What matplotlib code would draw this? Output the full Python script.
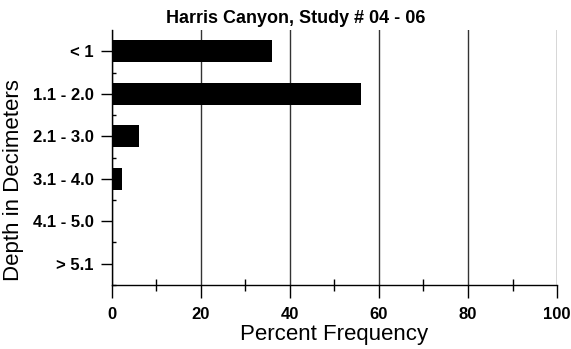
import numpy as np
import matplotlib
matplotlib.use("Agg")
import matplotlib.pyplot as plt
from matplotlib.ticker import MultipleLocator, FixedLocator

plt.rcParams['font.family'] = ['Liberation Sans', 'DejaVu Sans']

# data
depth = ['< 1', '1.1 - 2.0', '2.1 - 3.0', '3.1 - 4.0', '4.1 - 5.0', '> 5.1']
freq = [36, 56, 6, 2.2, 0.2, 0.2]
title = 'Harris Canyon, Study # 04 - 06'

fig = plt.figure(figsize=(5.71, 3.49), dpi=100)
fig.set_facecolor('w')
ax = fig.add_axes([0.196, 0.1834, 0.7795, 0.7306])

y = np.arange(len(depth))
ax.barh(y, freq, height=0.52, color='k', zorder=3)

ax.set_xlim(0, 100)
ax.set_ylim(len(depth) - 0.5, -0.5)

ax.xaxis.set_major_locator(MultipleLocator(20))
ax.xaxis.set_minor_locator(MultipleLocator(10))
ax.set_yticks(y)
ax.set_yticklabels(depth)
ax.yaxis.set_minor_locator(FixedLocator(np.arange(len(depth)) + 0.5))

ax.grid(axis='x', which='major', color='#333333', linewidth=1.0, zorder=1)

for s in ['top', 'right']:
    ax.spines[s].set_visible(False)
for s in ['left', 'bottom']:
    ax.spines[s].set_linewidth(1.0)

ax.tick_params(axis='x', which='major', direction='out', length=9, width=1, pad=7)
ax.tick_params(axis='x', which='minor', direction='inout', length=9, width=1)
ax.tick_params(axis='y', which='major', direction='out', length=8, width=1, pad=5)
ax.tick_params(axis='y', which='minor', direction='in', length=3, width=1)

for lbl in ax.get_xticklabels() + ax.get_yticklabels():
    lbl.set_fontweight('bold')
    lbl.set_fontsize(12)

ax.set_xlabel('Percent Frequency', fontsize=16, labelpad=1)
ax.set_ylabel('Depth in Decimeters', fontsize=16)
ax.yaxis.set_label_coords(-0.197, 0.41)
ax.set_title(title, fontsize=13, fontweight='bold', x=0.413, pad=5)

plt.savefig('out.png', dpi=100)
